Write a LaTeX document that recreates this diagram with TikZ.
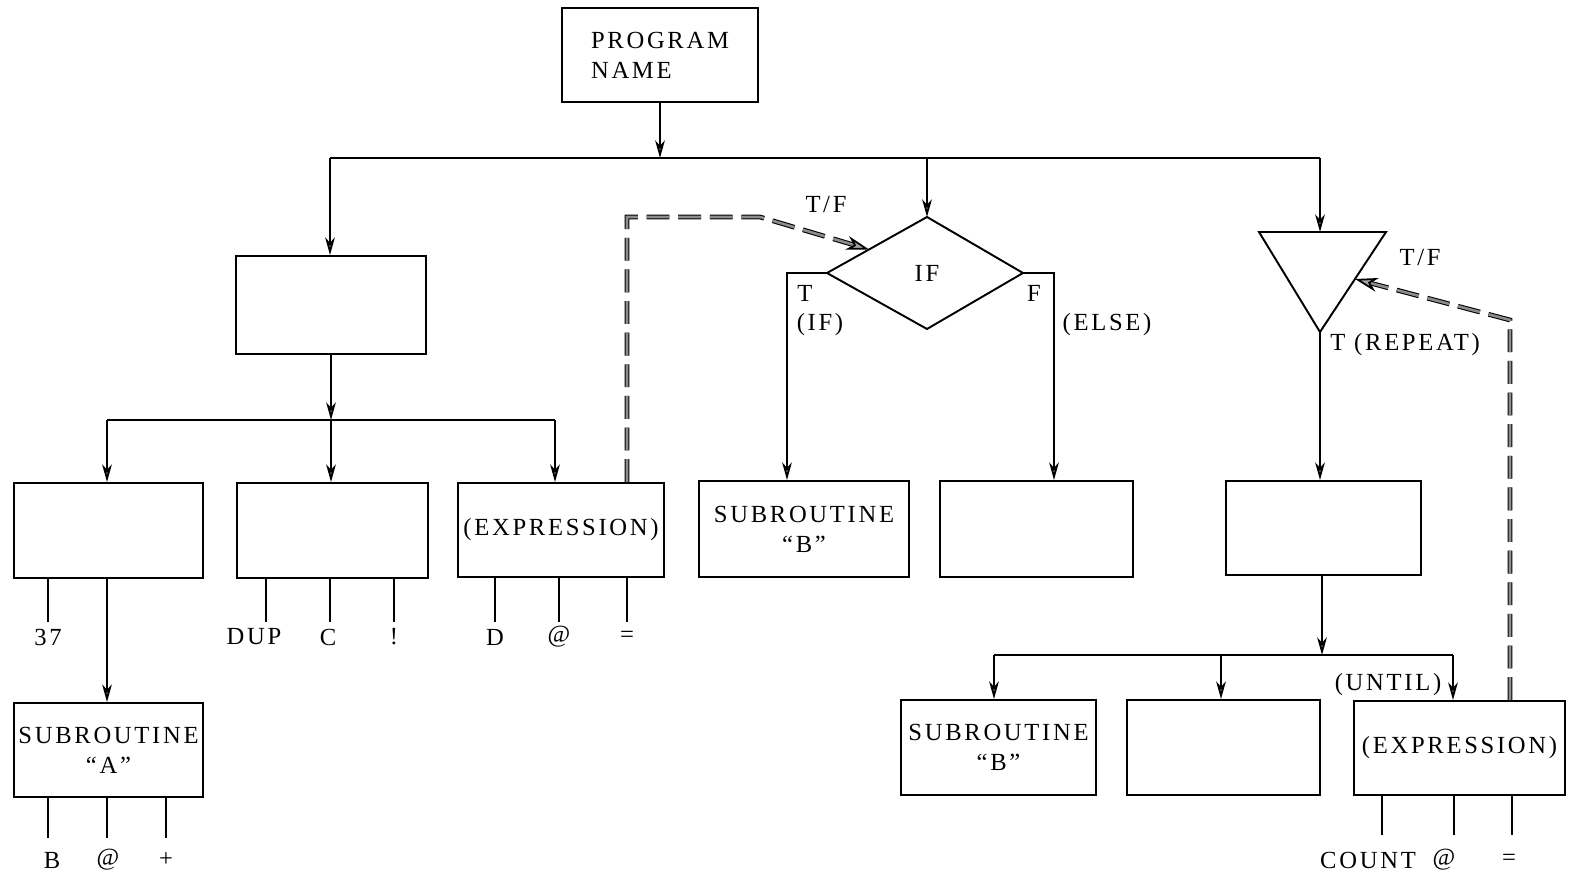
\documentclass[tikz,border=0pt]{standalone}
\usepackage{fontspec}
\setmainfont{Liberation Serif}[LetterSpace=11]
\usetikzlibrary{arrows.meta,calc,fit}

\begin{document}
\begin{tikzpicture}[x=0.02cm,y=-0.02cm,
  every node/.style={font=\fontsize{14}{17}\selectfont, inner sep=0pt},
  box/.style={draw, line width=1.1pt, inner sep=0pt, align=center},
  wire/.style={line width=1.1pt},
  arr/.style={wire, -{Stealth[open, length=10pt, width=5.5pt, inset=3pt]}},
  dashline/.style={line width=0.6pt, double=black!45, double distance=1.5pt,
    dash pattern=on 13pt off 5pt,
    -{Stealth[open, length=13pt, width=8pt, inset=4pt, line width=1pt, fill=black!35]}},
  stub/.style={line width=1.3pt},
  lab/.style={anchor=center}]
\useasboundingbox (0,0) rectangle (1572,878);

% ---------- boxes ----------
\node[box, fit={(562,8) (758,102)}] (prog) {};
\node[align=left] at (prog.center) {PROGRAM\\NAME};
\node[box, fit={(236,256) (426,354)}] (b1) {};
\node[box, fit={(14,483) (203,578)}] (bA) {};
\node[box, fit={(237,483) (428,578)}] (bB) {};
\node[box, fit={(458,483) (664,577)}] (bE) {};
\node at (bE.center) {(EXPRESSION)};
\node[box, fit={(14,703) (203,797)}] (sA) {};
\node[align=center] at (sA.center) {SUBROUTINE\\“A”};
\node[box, fit={(699,481) (909,577)}] (sB1) {};
\node[align=center] at (sB1.center) {SUBROUTINE\\“B”};
\node[box, fit={(940,481) (1133,577)}] (bElse) {};
\node[box, fit={(1226,481) (1421,575)}] (bRep) {};
\node[box, fit={(901,700) (1096,795)}] (sB2) {};
\node[align=center] at (sB2.center) {SUBROUTINE\\“B”};
\node[box, fit={(1127,700) (1320,795)}] (bEmp) {};
\node[box, fit={(1354,701) (1565,795)}] (bE2) {};
\node at (bE2.center) {(EXPRESSION)};

% ---------- IF diamond ----------
\coordinate (dT) at (927,217);
\coordinate (dL) at (827,273);
\coordinate (dR) at (1023,273);
\coordinate (dB) at (927,329);
\draw[wire] (dT) -- (dR) -- (dB) -- (dL) -- cycle;
\node (iflab) at (927,273) {IF};

% ---------- REPEAT triangle ----------
\coordinate (tL) at (1259,232);
\coordinate (tR) at (1386,232);
\coordinate (tB) at (1320,332);
\coordinate (tTop) at (1320,232);
\draw[wire] (tL) -- (tR) -- (tB) -- cycle;

% ---------- top level ----------
\coordinate (busL) at (330,158);
\coordinate (busR) at (1320,158);
\draw[arr] (prog.south) -- (prog.south |- busL);
\draw[wire] (busL) -- (busR);
\draw[arr] (busL) -- (b1.north -| busL);
\draw[arr] (dT |- busL) -- (dT);
\draw[arr] (busR) -- (tTop);

% ---------- left branch ----------
\coordinate (bus2L) at (107,420);
\coordinate (bus2M) at (331,420);
\coordinate (bus2R) at (555,420);
\draw[arr] (b1.south -| bus2M) -- (bus2M);
\draw[wire] (bus2L) -- (bus2R);
\draw[arr] (bus2L) -- (bA.north -| bus2L);
\draw[arr] (bus2M) -- (bB.north -| bus2M);
\draw[arr] (bus2R) -- (bE.north -| bus2R);
\draw[arr] (bA.south -| bus2L) -- (sA.north -| bus2L);

% stubs and words under the first row
\coordinate (k37) at (48,622);
\coordinate (kDUP) at (266,622);
\coordinate (kC) at (330,622);
\coordinate (kX) at (394,622);
\coordinate (kD) at (495,622);
\coordinate (kAt) at (559,622);
\coordinate (kEq) at (627,622);
\foreach \k/\b in {k37/bA, kDUP/bB, kC/bB, kX/bB, kD/bE, kAt/bE, kEq/bE}
  \draw[stub] (\k |- \b.south) -- (\k);
\node[lab] (l37) at (48,637) {37};
\node[lab] (lDUP) at (254,637) {DUP};
\node[lab] (lC) at (328,637) {C};
\node[lab] (lX) at (394,637) {!};
\node[lab] (lD) at (495,637) {D};
\node[lab] (lAt) at (559,637) {@};
\node[lab] (lEq) at (627,637) {=};

% stubs and words under subroutine A
\coordinate (kB) at (48,838);
\coordinate (kAt2) at (107,838);
\coordinate (kPl) at (166,838);
\foreach \k in {kB, kAt2, kPl}
  \draw[stub] (\k |- sA.south) -- (\k);
\node[lab] (lB) at (52,860) {B};
\node[lab] (lAt2) at (108,860) {@};
\node[lab] (lPl) at (166,860) {+};

% ---------- IF branches ----------
\coordinate (ifT) at (787,273);
\coordinate (ifF) at (1054,273);
\draw[arr] (dL) -- (ifT) -- (ifT |- sB1.north);
\draw[arr] (dR) -- (ifF) -- (ifF |- bElse.north);
\node (lT) at (805,293) {T};
\node (lIF) at (820,325) {(IF)};
\node (lF) at (1034,293) {F};
\node (lELSE) at (1107,325) {(ELSE)};

% condition feeding the IF
\coordinate (c1) at (627,217);
\coordinate (c2) at (760,217);
\draw[dashline] (bE.north -| c1) -- (c1) -- (c2) -- ($(dL)!0.42!(dT)$);
\node (tf1) at (826,205) {T/F};

% ---------- REPEAT branch ----------
\draw[arr] (tB) -- (tB |- bRep.north);
\node[anchor=west] (lREP) at (1330,345) {T (REPEAT)};
\node (tf2) at (1420,258) {T/F};

\coordinate (bus3L) at (994,655);
\coordinate (bus3M) at (1221,655);
\coordinate (bus3C) at (1322,655);
\coordinate (bus3R) at (1453,655);
\draw[arr] (bRep.south -| bus3C) -- (bus3C);
\draw[wire] (bus3L) -- (bus3R);
\draw[arr] (bus3L) -- (sB2.north -| bus3L);
\draw[arr] (bus3M) -- (bEmp.north -| bus3M);
\draw[arr] (bus3R) -- (bE2.north -| bus3R);
\node (lUNTIL) at (1388,685) {(UNTIL)};

% stubs and words under the UNTIL expression
\coordinate (kCOUNT) at (1382,835);
\coordinate (kAt3) at (1454,835);
\coordinate (kEq3) at (1512,835);
\foreach \k in {kCOUNT, kAt3, kEq3}
  \draw[stub] (\k |- bE2.south) -- (\k);
\node[lab] (lCOUNT) at (1368,860) {COUNT};
\node[lab] (lAt3) at (1444,860) {@};
\node[lab] (lEq3) at (1509,860) {=};

% condition feeding the REPEAT
\coordinate (c3) at (1510,320);
\draw[dashline] (bE2.north -| c3) -- (c3) -- ($(tR)!0.47!(tB)$);

\end{tikzpicture}
\end{document}
